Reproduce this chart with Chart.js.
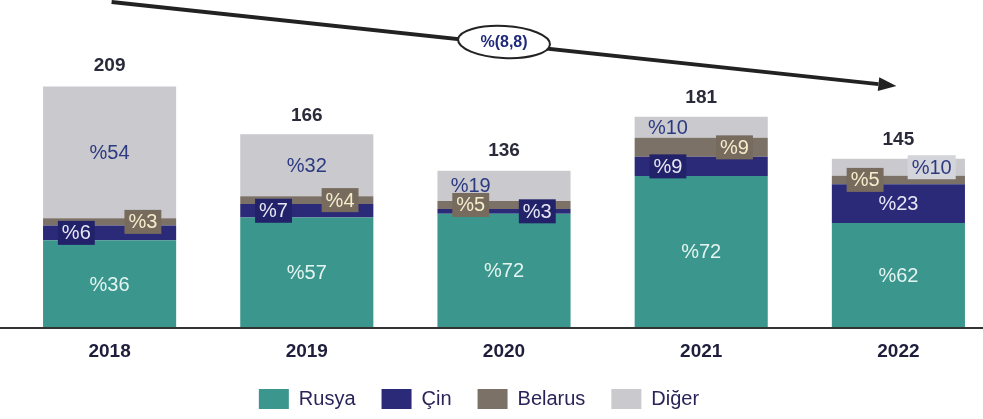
<!DOCTYPE html>
<html>
<head>
<meta charset="utf-8">
<script src="https://cdn.jsdelivr.net/npm/chart.js@4"></script>
<style>
  html, body { margin: 0; padding: 0; background: #fff; overflow: hidden; }
</style>
</head>
<body>
<canvas id="importChart" width="997" height="419"></canvas>
<script>
// data
const years = ['2018', '2019', '2020', '2021', '2022'];
const totals = [209, 166, 136, 181, 145];
const rusyaPct = [36, 57, 72, 72, 62];
const cinPct = [6, 7, 3, 9, 23];
const belarusPct = [3, 4, 5, 9, 5];
const digerPct = [54, 32, 19, 10, 10];
const changeLabel = '%(8,8)';

// where each % label goes: c = centre, l / r = left / right side of the bar; box = draw a tag behind it
const labelPlace = [
    { pos: ['c', 'c', 'c', 'c', 'c'], box: [0, 0, 0, 0, 0], color: '#e4f4f0', boxColor: null },
    { pos: ['l', 'l', 'r', 'l', 'c'], box: [1, 1, 1, 1, 0], color: '#e6e6f4', boxColor: '#22226a' },
    { pos: ['r', 'r', 'l', 'r', 'l'], box: [1, 1, 1, 1, 1], color: '#f3edcc', boxColor: '#776b5e' },
    { pos: ['c', 'c', 'l', 'l', 'r'], box: [0, 0, 0, 0, 1], color: '#2c3a80', boxColor: '#d4d5da' }
];

const share = pct => pct.map((p, i) => totals[i] * p / 100);
const FONT = "'Liberation Sans', Arial, sans-serif";

// legend sits a bit left of centre in the source
const legendShift = {
    id: 'legendShift',
    afterLayout(chart) {
        chart.legend.left -= 25;
        chart.legend.right -= 25;
    }
};

const overlay = {
    id: 'overlay',
    afterDatasetsDraw(chart) {
        const { ctx, chartArea, scales: { x, y } } = chart;
        ctx.save();

        // baseline across the whole width
        const y0 = y.getPixelForValue(0);
        ctx.strokeStyle = '#333';
        ctx.lineWidth = 2;
        ctx.beginPath();
        ctx.moveTo(0, y0);
        ctx.lineTo(chart.width, y0);
        ctx.stroke();

        // % labels inside the segments
        ctx.font = '20px ' + FONT;
        ctx.textBaseline = 'middle';
        ctx.textAlign = 'center';
        const pcts = [rusyaPct, cinPct, belarusPct, digerPct];
        chart.data.datasets.forEach((ds, di) => {
            const meta = chart.getDatasetMeta(di);
            const place = labelPlace[di];
            meta.data.forEach((bar, i) => {
                const { x: cx, y: top, base, width } = bar.getProps(['x', 'y', 'base', 'width'], true);
                const txt = '%' + pcts[di][i];
                let lx = cx;
                if (place.pos[i] === 'l') lx = cx - width * 0.25;
                if (place.pos[i] === 'r') lx = cx + width * 0.25;
                const ly = (top + base) / 2;
                if (place.box[i]) {
                    const w = ctx.measureText(txt).width + 8;
                    ctx.fillStyle = place.boxColor;
                    ctx.fillRect(lx - w / 2, ly - 12, w, 24);
                }
                ctx.fillStyle = place.color;
                ctx.fillText(txt, lx, ly + 1);
            });
        });

        // totals above the bars
        ctx.fillStyle = '#2a2a3a';
        ctx.font = 'bold 19px ' + FONT;
        ctx.textBaseline = 'bottom';
        totals.forEach((t, i) => {
            ctx.fillText(String(t), x.getPixelForValue(i), y.getPixelForValue(t) - 9);
        });

        // trend arrow
        const sx = x.getPixelForValue(0) + 2, sy = chartArea.top + 2;
        const ex = x.getPixelForValue(years.length - 1) - 2, ey = y.getPixelForValue(Math.max(...totals)) + 2;
        const ang = Math.atan2(ey - sy, ex - sx);
        const head = 18;
        ctx.strokeStyle = '#222';
        ctx.fillStyle = '#222';
        ctx.lineWidth = 4;
        ctx.beginPath();
        ctx.moveTo(sx, sy);
        ctx.lineTo(ex - head * Math.cos(ang), ey - head * Math.sin(ang));
        ctx.stroke();
        ctx.beginPath();
        ctx.moveTo(ex, ey);
        ctx.lineTo(ex - head * Math.cos(ang) + 7 * Math.sin(ang), ey - head * Math.sin(ang) - 7 * Math.cos(ang));
        ctx.lineTo(ex - head * Math.cos(ang) - 7 * Math.sin(ang), ey - head * Math.sin(ang) + 7 * Math.cos(ang));
        ctx.closePath();
        ctx.fill();

        // change bubble
        const mx = (sx + ex) / 2, my = (sy + ey) / 2 - 2;
        ctx.beginPath();
        ctx.ellipse(mx, my, 46, 16, ang / 2, 0, Math.PI * 2);
        ctx.fillStyle = '#fff';
        ctx.fill();
        ctx.lineWidth = 2;
        ctx.strokeStyle = '#222';
        ctx.stroke();
        ctx.fillStyle = '#1f2a7a';
        ctx.font = "bold 16px 'Liberation Sans Narrow', 'Liberation Sans', Arial, sans-serif";
        ctx.textBaseline = 'middle';
        ctx.fillText(changeLabel, mx, my + 1);

        ctx.restore();
    }
};

new Chart(document.getElementById('importChart').getContext('2d'), {
    type: 'bar',
    data: {
        labels: years,
        datasets: [
            { label: 'Rusya', data: share(rusyaPct), backgroundColor: '#3b978d' },
            { label: 'Çin', data: share(cinPct), backgroundColor: '#2a2a78' },
            { label: 'Belarus', data: share(belarusPct), backgroundColor: '#7c7166' },
            { label: 'Diğer', data: share(digerPct), backgroundColor: '#c9c9ce' }
        ]
    },
    options: {
        responsive: false,
        animation: false,
        layout: { padding: { left: 11, right: 0, top: 0, bottom: 0 } },
        datasets: { bar: { barPercentage: 0.675, categoryPercentage: 1 } },
        plugins: {
            legend: {
                position: 'bottom',
                labels: {
                    boxWidth: 30,
                    boxHeight: 20,
                    padding: 26,
                    color: '#2a2458',
                    font: { family: FONT, size: 20 }
                }
            },
            tooltip: { enabled: false }
        },
        scales: {
            x: {
                stacked: true,
                grid: { display: false, drawTicks: false },
                border: { display: false },
                ticks: {
                    color: '#1e1e3c',
                    padding: 12,
                    font: { family: FONT, size: 19, weight: 'bold' }
                },
                afterFit: scale => { scale.height = 35; }
            },
            y: {
                stacked: true,
                display: false,
                min: 0,
                max: 281
            }
        }
    },
    plugins: [legendShift, overlay]
});
</script>
</body>
</html>
